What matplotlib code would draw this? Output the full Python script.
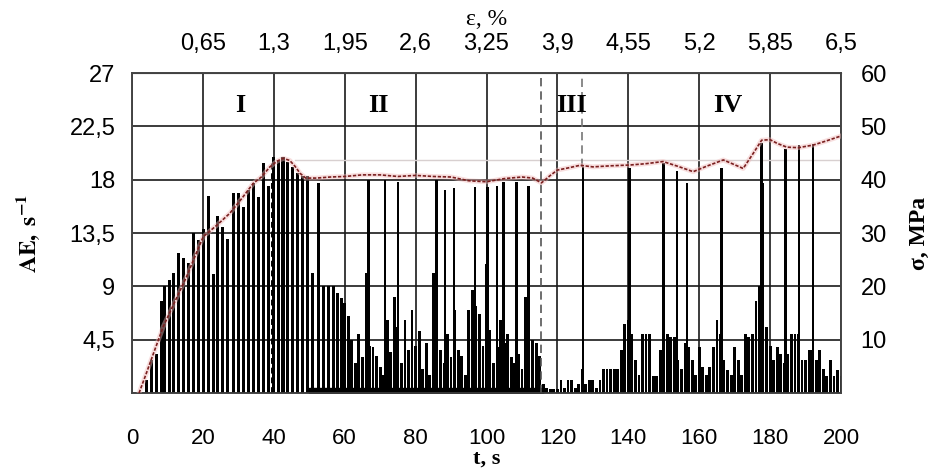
import matplotlib
matplotlib.use('Agg')
import matplotlib.pyplot as plt

# --- data ---
# stage I: dense growing AE bars (t, s / AE, 1/s)
t_grow = [4.2, 5.6, 7.0, 8.4, 9.3, 10.5, 11.8, 13.2, 14.6, 16.0, 17.4, 18.8, 20.2,
          21.6, 23.0, 24.2, 25.6, 27.0, 28.6, 30.0, 31.4, 32.8, 34.2, 35.6, 37.0,
          38.4, 39.8, 41.2, 42.6, 44.0, 45.4, 46.8, 48.2, 49.4, 50.8, 54.1, 55.5,
          56.9]
ae_grow = [1.1, 2.8, 3.3, 7.8, 9.0, 9.5, 10.1, 11.8, 11.4, 11.0, 13.5, 12.9, 13.8,
           16.6, 10.0, 14.9, 14.0, 13.0, 16.9, 16.9, 15.7, 17.1, 17.7, 16.5, 19.4,
           17.5, 19.9, 19.6, 19.9, 19.5, 19.1, 18.6, 18.3, 18.3, 10.1, 9.0, 9.0,
           9.0]

# low-level AE bursts, stages II-IV
t_small = list(range(58, 201))
ae_small = [8.4, 8.0, 7.6, 6.5, 4.5, 2.5, 5.0, 3.0, 10.1, 4.0, 3.9, 3.1, 2.2, 1.5,
            6.2, 3.5, 8.1, 5.6, 2.5, 6.2, 3.6, 7.0, 4.0, 5.2, 2.0, 4.2, 1.5, 10.1,
            9.2, 3.6, 2.5, 5.0, 3.0, 7.0, 3.6, 3.1, 1.5, 7.0, 8.7, 7.3, 6.7, 4.0,
            10.9, 5.3, 2.5, 3.9, 6.2, 4.2, 5.0, 3.0, 2.5, 3.3, 2.0, 8.1, 6.2, 4.5,
            4.2, 3.1, 0.8,
            0.4, 0.3, 0.3, 0.3, 1.1, 0.4, 1.1, 1.1, 0.4, 0.8, 2.0, 0.8, 1.1, 1.1,
            0.4, 1.1, 2.0, 2.0, 2.0, 2.0, 2.0, 3.6, 5.8, 6.2, 5.0, 2.8, 1.5, 5.0,
            5.0, 5.0, 1.4, 1.4, 3.6, 6.2, 5.0, 4.7, 4.7, 2.8, 2.0, 4.2, 3.9, 2.8,
            1.5, 3.9, 2.2, 1.5, 2.2, 3.9, 6.2, 5.0, 2.8, 1.9, 1.5, 3.9, 2.8, 1.5,
            5.0, 4.7, 5.0, 7.8, 9.0, 17.7, 5.6, 4.0, 2.8, 3.9, 3.3, 2.5, 3.3, 5.0,
            5.0, 5.0, 2.8, 2.8, 3.6, 3.6, 2.8, 3.6, 2.0, 1.4, 2.8, 1.4, 1.9, 1.4]

# tall single spikes
t_spike = [52.6, 66.7, 71.4, 75.1, 85.9, 88.3, 90.9, 96.8, 100.3, 102.9, 104.8,
           108.5, 111.8, 127.2, 140.3, 149.9, 153.8, 156.5, 166.3, 177.6, 184.3,
           188.1, 192.1]
ae_spike = [17.7, 18.0, 18.0, 17.8, 18.0, 17.1, 17.3, 17.4, 17.4, 17.5, 17.8,
            17.8, 17.5, 19.1, 19.0, 19.4, 18.7, 17.7, 19.0, 21.1, 20.6, 20.9, 21.0]

# continuous AE floor in stage II
t_floor = [50, 116]
ae_floor = [0.4, 0.4]

# stress curve (MPa)
t_sig = [2, 4, 6, 8.8, 12, 15.4, 18, 20.1, 24, 27.6, 31, 34.2, 36.5, 38.9, 41,
         42.7, 44.5, 46, 47.4, 49, 52, 56, 60, 65, 70, 75, 80, 85, 90, 95, 100,
         105, 110, 113, 115.5, 118, 120, 123, 126.4, 130, 135, 140.5, 145, 149.8,
         154, 158.3, 162, 166.8, 170, 172.4, 175.2, 177.6, 180, 182, 184.7, 188,
         192.2, 196, 200]
sigma = [0, 3.6, 7.3, 12.4, 17, 21.8, 26, 29.3, 31.5, 33.7, 36.5, 39.3, 40.5, 42.4,
         43.5, 44, 43.6, 42.5, 41.2, 40.3, 40.3, 40.5, 40.6, 40.9, 40.9, 40.6, 40.8,
         40.6, 40.5, 39.8, 39.6, 40.2, 40.5, 40.3, 39.4, 40.8, 41.8, 42.2, 42.7,
         42.4, 42.6, 42.75, 43.0, 43.4, 42.5, 41.5, 42.5, 43.7, 42.8, 42.1, 44.9,
         47.4, 47.5, 46.8, 46.1, 46.0, 46.5, 47.3, 48.2]

stage_names = ['I', 'II', 'III', 'IV']
stage_pos = [30.5, 69.5, 124.0, 168.0]
stage_bounds = [39.6, 115.5, 127.0]

x_ticks = list(range(0, 201, 20))
ae_ticks = [0, 4.5, 9, 13.5, 18, 22.5, 27]
ae_labels = ['', '4,5', '9', '13,5', '18', '22,5', '27']
sig_ticks = [10, 20, 30, 40, 50, 60]
eps_labels = ['0,65', '1,3', '1,95', '2,6', '3,25', '3,9', '4,55', '5,2', '5,85', '6,5']

plt.rcParams['font.family'] = ['Liberation Sans', 'DejaVu Sans']
plt.rcParams['mathtext.fontset'] = 'stix'
serif = ['Liberation Serif', 'DejaVu Serif']

fig = plt.figure(figsize=(9.32, 4.72), dpi=100)
ax = fig.add_axes([0.1416, 0.1674, 0.7608, 0.6779])
ax.set_xlim(0, 200)
ax.set_ylim(0, 27)

ax.set_xticks(x_ticks)
ax.set_yticks(ae_ticks)
ax.set_yticklabels(ae_labels)
ax.grid(True, color='#1a1a1a', lw=1.2)
ax.set_axisbelow(True)
ax.tick_params(length=0, labelsize=17)
ax.tick_params(axis='x', labelsize=16, pad=25)
ax.tick_params(axis='y', pad=12)
for s in ax.spines.values():
    s.set_color('#444444')
    s.set_linewidth(1.2)

# AE bars
ax.bar(t_grow, ae_grow, width=0.85, color='black', zorder=3)
ax.bar(t_small, ae_small, width=0.8, color='black', zorder=3)
ax.bar(t_spike, ae_spike, width=0.7, color='black', zorder=3)
ax.fill_between(t_floor, ae_floor, color='black', zorder=3)

# stage boundaries
ax.axvline(stage_bounds[0], ymax=19.5 / 27, color='black', ls=(0, (3, 2)), lw=1.4, zorder=4)
ax.axvline(stage_bounds[1], color='#555555', ls=(0, (5, 3)), lw=1.2, zorder=4)
ax.axvline(stage_bounds[2], ymin=19.1 / 27, color='#777777', ls=(0, (5, 3)), lw=1.2, zorder=4)
ax.axhline(19.7, xmin=46 / 200, color='#d8d0d0', lw=1.0, zorder=2)

for name, x in zip(stage_names, stage_pos):
    ax.text(x, 24.3, name, ha='center', va='center', fontsize=19,
            fontweight='bold', family=serif, zorder=5)

ax.set_xlabel('t, s', family=serif, fontweight='bold', fontsize=16, labelpad=0)
ax.set_ylabel(r'$\mathbf{AE,\ s^{-1}}$', fontsize=17, labelpad=20)

# stress on the right axis
ax2 = ax.twinx()
ax2.set_ylim(0, 60)
ax2.set_yticks(sig_ticks)
ax2.tick_params(length=0, labelsize=17, pad=14)
ax2.plot(t_sig, sigma, color='#f0b8b8', lw=3.5, alpha=0.45, zorder=5)
ax2.plot(t_sig, sigma, color='#7a1f1f', lw=1.2, ls=(0, (2, 1)), zorder=6)
ax2.set_ylabel('σ, MPa', family=serif, fontweight='bold', fontsize=17, labelpad=16)
for s in ax2.spines.values():
    s.set_color('#444444')
    s.set_linewidth(1.2)

# strain on the top axis
top = ax.secondary_xaxis('top')
top.set_xticks(x_ticks[1:])
top.set_xticklabels(eps_labels)
top.tick_params(length=0, labelsize=17, pad=13)
top.set_xlabel('ε, %', family=serif, fontsize=17, labelpad=6)

fig.savefig('out.png', dpi=100)
